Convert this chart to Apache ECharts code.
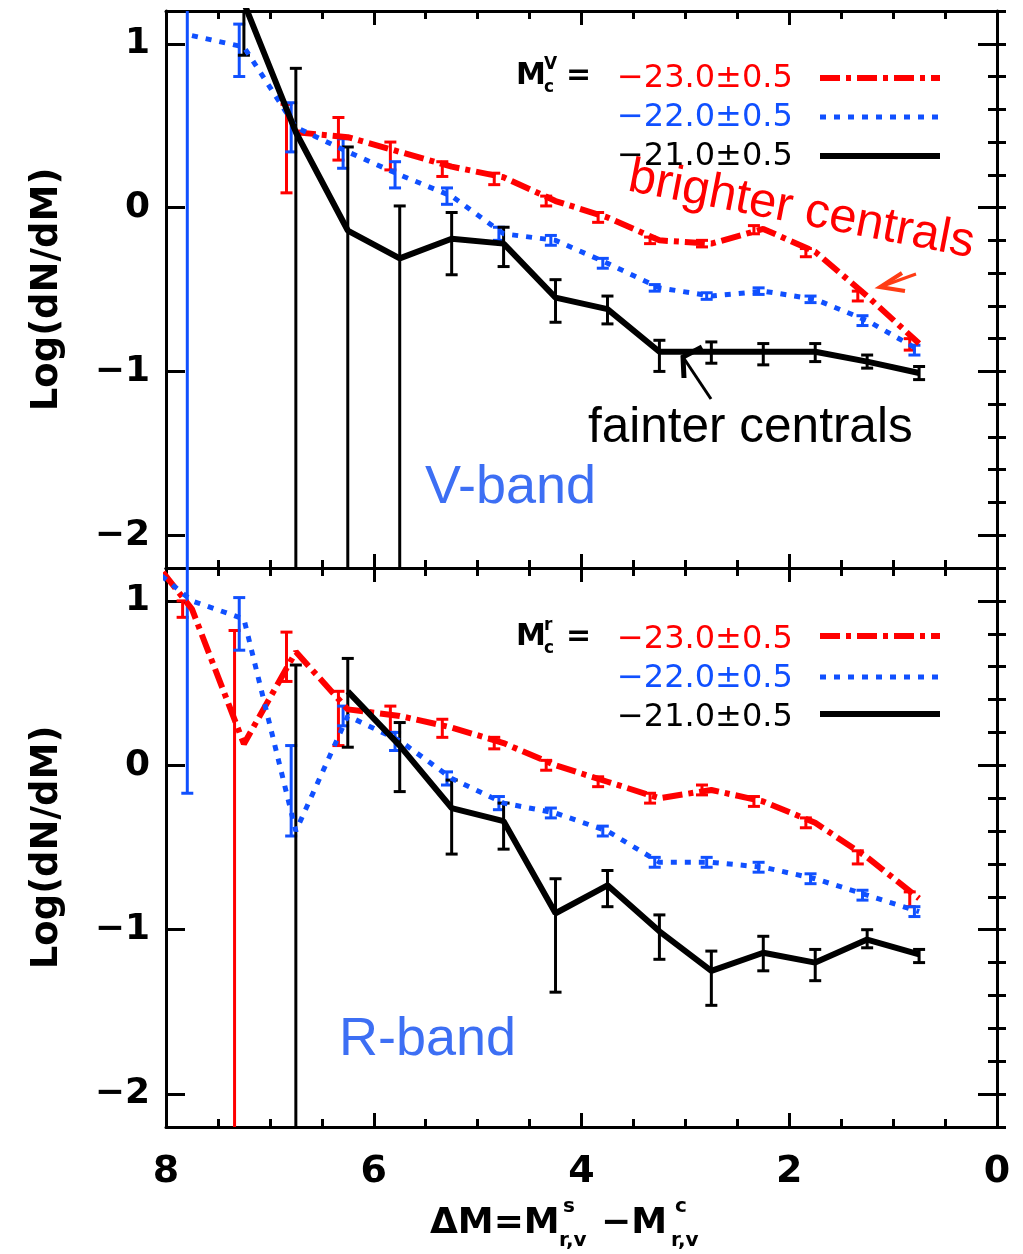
<!DOCTYPE html>
<html><head><meta charset="utf-8">
<script src="https://cdn.jsdelivr.net/npm/echarts@6/dist/echarts.min.js"></script>
<style>html,body{margin:0;padding:0;background:#fff}#c{width:1023px;height:1254px}</style>
</head><body><div id="c"></div>
<script>
// ---------------- data ----------------
const bins = [8.25, 7.75, 7.25, 6.75, 6.25, 5.75, 5.25, 4.75, 4.25, 3.75, 3.25, 2.75, 2.25, 1.75, 1.25, 0.75];
const seriesNames = ['−23.0±0.5', '−22.0±0.5', '−21.0±0.5'];
const yTickValues = [1, 0, -1, -2];
const xTickValues = [8, 6, 4, 2, 0];

// V-band panel
const vRed    = [null, null, null, 0.46, 0.43, 0.34, 0.25, 0.185, 0.04, -0.06, -0.20, -0.22, -0.13, -0.27, -0.54, -0.83];
const vRedLo  = [null, null, null, 0.09, 0.29, 0.23, 0.19, 0.14, 0.01, -0.09, -0.22, -0.24, -0.16, -0.30, -0.57, -0.87];
const vRedHi  = [null, null, null, 0.63, 0.55, 0.40, 0.28, 0.21, 0.07, -0.03, -0.18, -0.20, -0.11, -0.25, -0.51, -0.80];
const vBlue   = [null, 1.05, 0.98, 0.49, 0.34, 0.20, 0.07, -0.16, -0.20, -0.34, -0.49, -0.54, -0.51, -0.56, -0.69, -0.87];
const vBlueLo = [null, -3.0, 0.80, 0.34, 0.24, 0.12, 0.02, -0.20, -0.23, -0.37, -0.51, -0.56, -0.53, -0.58, -0.72, -0.90];
const vBlueHi = [null, 2.0, 1.12, 0.64, 0.42, 0.28, 0.12, -0.12, -0.17, -0.31, -0.47, -0.52, -0.49, -0.54, -0.66, -0.84];
const vBlack   = [null, null, 1.25, 0.46, -0.14, -0.31, -0.19, -0.22, -0.55, -0.62, -0.88, -0.88, -0.88, -0.88, -0.94, -1.01];
const vBlackLo = [null, null, 0.93, -3.0, -3.0, -3.0, -0.41, -0.36, -0.70, -0.71, -1.00, -0.95, -0.96, -0.94, -0.98, -1.05];
const vBlackHi = [null, null, 1.60, 0.85, 0.37, 0.01, -0.03, -0.12, -0.44, -0.54, -0.81, -0.82, -0.83, -0.83, -0.90, -0.97];

// R-band panel
const rRed    = [1.35, 0.95, 0.13, 0.69, 0.34, 0.30, 0.23, 0.135, 0.00, -0.10, -0.20, -0.15, -0.22, -0.35, -0.56, -0.81];
const rRedLo  = [null, 0.90, -3.0, 0.51, 0.12, 0.20, 0.17, 0.10, -0.03, -0.13, -0.23, -0.18, -0.25, -0.38, -0.60, -0.86];
const rRedHi  = [null, 1.00, 0.82, 0.81, 0.45, 0.36, 0.28, 0.17, 0.03, -0.07, -0.17, -0.12, -0.19, -0.32, -0.52, -0.77];
const rBlue   = [1.26, 1.00, 0.89, -0.40, 0.30, 0.15, -0.08, -0.23, -0.29, -0.40, -0.59, -0.59, -0.62, -0.69, -0.79, -0.89];
const rBlueLo = [null, -0.17, 0.70, -0.43, 0.24, 0.09, -0.12, -0.27, -0.32, -0.43, -0.62, -0.62, -0.65, -0.72, -0.82, -0.92];
const rBlueHi = [null, 2.0, 1.02, 0.12, 0.36, 0.20, -0.04, -0.19, -0.26, -0.37, -0.56, -0.56, -0.59, -0.66, -0.76, -0.86];
const rBlack   = [null, null, null, null, 0.45, 0.12, -0.26, -0.34, -0.90, -0.73, -1.01, -1.25, -1.14, -1.20, -1.06, -1.15];
const rBlackLo = [null, null, null, -3.0, 0.11, -0.16, -0.54, -0.51, -1.38, -0.86, -1.18, -1.46, -1.25, -1.31, -1.11, -1.20];
const rBlackHi = [null, null, null, 0.61, 0.65, 0.26, -0.09, -0.23, -0.69, -0.64, -0.91, -1.13, -1.04, -1.12, -1.00, -1.12];

// error-bar horizontal shift
const redBarShift = 0.09, blueBarShift = 0.045, blackBarShift = 0;

// ---------------- styling ----------------
const RED = '#ff0000', BLUE = '#1050ff', BLACK = '#000000', LABELBLUE = '#3d6ff4';
const Y_MIN = -2.2, Y_MAX = 1.2;
const TICKFONT = 'DejaVu Sans';

function pairs(vals) { return bins.map((b, i) => [b, vals[i]]); }
function bars(lo, hi, shift) {
  const out = [];
  bins.forEach((b, i) => { if (lo[i] != null) out.push([b + shift, lo[i], hi[i]]); });
  return out;
}
function errRender(color) {
  return function (params, api) {
    const x = api.value(0), lo = api.value(1), hi = api.value(2);
    const loC = Math.max(lo, Y_MIN), hiC = Math.min(hi, Y_MAX);
    const p1 = api.coord([x, loC]), p2 = api.coord([x, hiC]);
    const st = { stroke: color, lineWidth: 3 };
    const ch = [{ type: 'line', shape: { x1: p1[0], y1: p1[1], x2: p2[0], y2: p2[1] }, style: st }];
    const hw = 6;
    if (lo >= Y_MIN) ch.push({ type: 'line', shape: { x1: p1[0] - hw, y1: p1[1], x2: p1[0] + hw, y2: p1[1] }, style: st });
    if (hi <= Y_MAX) ch.push({ type: 'line', shape: { x1: p2[0] - hw, y1: p2[1], x2: p2[0] + hw, y2: p2[1] }, style: st });
    return { type: 'group', children: ch };
  };
}

const lineStyles = [
  { color: RED, width: 6, type: [20, 6, 5, 6], cap: 'butt' },
  { color: BLUE, width: 5, type: [6, 8], cap: 'butt' },
  { color: BLACK, width: 6, type: 'solid' }
];

function xAxes(grid, withLabels) {
  const base = {
    type: 'value', gridIndex: grid, min: 0, max: 8, interval: 2, inverse: true,
    splitLine: { show: false },
    axisLine: { show: true, onZero: false, lineStyle: { color: '#000', width: 3 } },
    axisTick: { show: true, inside: true, length: 14, lineStyle: { color: '#000', width: 3 } },
    minorTick: { show: true, splitNumber: 4, length: 8, lineStyle: { color: '#000', width: 3 } }
  };
  return [
    Object.assign({}, base, {
      position: 'bottom',
      axisLabel: withLabels ? {
        show: true, margin: 26, color: '#000', fontFamily: TICKFONT, fontWeight: 'bold', fontSize: 38,
        customValues: xTickValues, formatter: v => String(v)
      } : { show: false }
    }),
    Object.assign({}, base, { position: 'top', axisLabel: { show: false } })
  ];
}
function yAxes(grid) {
  const major = {
    type: 'value', gridIndex: grid, min: Y_MIN, max: Y_MAX,
    splitLine: { show: false },
    axisLine: { show: true, onZero: false, lineStyle: { color: '#000', width: 3 } },
    axisTick: { show: true, inside: true, length: 19, customValues: yTickValues, lineStyle: { color: '#000', width: 3 } }
  };
  const minor = {
    type: 'value', gridIndex: grid, min: Y_MIN, max: Y_MAX, interval: 0.2,
    splitLine: { show: false }, axisLabel: { show: false },
    axisLine: { show: false },
    axisTick: { show: true, inside: true, length: 9, lineStyle: { color: '#000', width: 3 } }
  };
  return [
    Object.assign({}, major, {
      position: 'left',
      name: 'Log(dN/dM)', nameLocation: 'middle', nameGap: 100, nameRotate: 90,
      nameTextStyle: { fontFamily: TICKFONT, fontWeight: 'bold', fontSize: 37, color: '#000' },
      axisLabel: {
        show: true, margin: 16, color: '#000', fontFamily: TICKFONT, fontWeight: 'bold', fontSize: 36,
        customValues: yTickValues, formatter: v => (v < 0 ? '−' + Math.abs(v) : String(v))
      }
    }),
    Object.assign({}, major, { position: 'right', axisLabel: { show: false } }),
    Object.assign({}, minor, { position: 'left' }),
    Object.assign({}, minor, { position: 'right' })
  ];
}

function panelSeries(gi, red, redLo, redHi, blue, blueLo, blueHi, black, blackLo, blackHi) {
  const xi = gi * 2, yi = gi * 4;
  const colors = [RED, BLUE, BLACK];
  const mk = (k, data, z) => ({
    type: 'line', name: seriesNames[k], xAxisIndex: xi, yAxisIndex: yi, data, symbol: 'none', showSymbol: false,
    itemStyle: { color: colors[k] },
    lineStyle: lineStyles[k], connectNulls: false, clip: true, z, animation: false
  });
  const eb = (name, data, color, z) => ({
    type: 'custom', name, xAxisIndex: xi, yAxisIndex: yi, data, renderItem: errRender(color),
    encode: { x: 0, y: [1, 2] }, clip: true, z, animation: false, silent: true
  });
  return [
    eb('err-red-' + gi, bars(redLo, redHi, redBarShift), RED, 3),
    eb('err-blue-' + gi, bars(blueLo, blueHi, blueBarShift), BLUE, 3),
    eb('err-black-' + gi, bars(blackLo, blackHi, blackBarShift), BLACK, 3),
    mk(0, pairs(red), 4),
    mk(1, pairs(blue), 4),
    mk(2, pairs(black), 5)
  ];
}

function legendFor(top) {
  return {
    orient: 'vertical', left: 612, top, align: 'right', itemWidth: 120, itemHeight: 14, itemGap: 7,
    selectedMode: false, icon: 'rect',
    itemStyle: { opacity: 0 },
    data: [
      { name: seriesNames[0], textStyle: { color: RED } },
      { name: seriesNames[1], textStyle: { color: BLUE } },
      { name: seriesNames[2], textStyle: { color: BLACK } }
    ],
    formatter: '{name}{g| }',
    textStyle: { fontFamily: 'DejaVu Sans', fontSize: 32, rich: { g: { width: 22 } } }
  };
}

function legendSamples(ys) {
  return ys.map((y, k) => ({
    type: 'line', shape: { x1: 820, y1: y, x2: 940, y2: y },
    style: { stroke: lineStyles[k].color, lineWidth: lineStyles[k].width, lineDash: Array.isArray(lineStyles[k].type) ? lineStyles[k].type : null, lineCap: 'butt' }
  }));
}

function mLabel(x, y, sup) {
  return [
    { type: 'text', x, y, style: { text: 'M', font: 'bold 30px "DejaVu Sans"', fill: '#000', verticalAlign: 'middle' } },
    { type: 'text', x: x + 28, y: y - 11, style: { text: sup, font: 'bold 17px "DejaVu Sans"', fill: '#000', verticalAlign: 'middle' } },
    { type: 'text', x: x + 28, y: y + 12, style: { text: 'c', font: 'bold 17px "DejaVu Sans"', fill: '#000', verticalAlign: 'middle' } },
    { type: 'text', x: x + 50, y, style: { text: '=', font: 'bold 30px "DejaVu Sans"', fill: '#000', verticalAlign: 'middle' } }
  ];
}

const graphics = [].concat(
  mLabel(516, 76, 'V'),
  mLabel(516, 637, 'r'),
  legendSamples([78, 117, 156]),
  legendSamples([636, 677, 714]),
  [
    // x axis title
    { type: 'text', x: 430, y: 1224, style: { text: 'ΔM=M', font: 'bold 36px "DejaVu Sans"', fill: '#000', verticalAlign: 'middle' } },
    { type: 'text', x: 563, y: 1207, style: { text: 's', font: 'bold 20px "DejaVu Sans"', fill: '#000', verticalAlign: 'middle' } },
    { type: 'text', x: 559, y: 1241, style: { text: 'r,v', font: 'bold 20px "DejaVu Sans"', fill: '#000', verticalAlign: 'middle' } },
    { type: 'text', x: 601, y: 1224, style: { text: '−M', font: 'bold 36px "DejaVu Sans"', fill: '#000', verticalAlign: 'middle' } },
    { type: 'text', x: 675, y: 1207, style: { text: 'c', font: 'bold 20px "DejaVu Sans"', fill: '#000', verticalAlign: 'middle' } },
    { type: 'text', x: 671, y: 1241, style: { text: 'r,v', font: 'bold 20px "DejaVu Sans"', fill: '#000', verticalAlign: 'middle' } },
    // annotations
    { type: 'text', x: 629, y: 177, rotation: -11 * Math.PI / 180, style: { text: 'brighter centrals', font: '49px "Liberation Sans"', fill: RED, verticalAlign: 'middle' } },
    { type: 'polyline', shape: { points: [[916, 274], [880, 287]] }, style: { stroke: '#ff3c14', lineWidth: 3, fill: null } },
    { type: 'polyline', shape: { points: [[902, 273], [880, 287], [905, 291]] }, style: { stroke: '#ff3c14', lineWidth: 4, fill: null } },
    { type: 'text', x: 588, y: 428, style: { text: 'fainter centrals', font: '49.5px "Liberation Sans"', fill: '#000', verticalAlign: 'middle' } },
    { type: 'polyline', shape: { points: [[711, 399], [683, 357]] }, style: { stroke: '#000', lineWidth: 3, fill: null } },
    { type: 'polyline', shape: { points: [[702, 347], [683, 357], [684, 378]] }, style: { stroke: '#000', lineWidth: 5, fill: null } },
    { type: 'text', x: 425, y: 488, style: { text: 'V-band', font: '54px "Liberation Sans"', fill: LABELBLUE, verticalAlign: 'middle' } },
    { type: 'text', x: 339, y: 1040, style: { text: 'R-band', font: '54px "Liberation Sans"', fill: LABELBLUE, verticalAlign: 'middle' } }
  ]
);

const option = {
  animation: false,
  backgroundColor: '#fff',
  grid: [
    { left: 166, right: 26, top: 11, height: 557, containLabel: false },
    { left: 166, right: 26, top: 568, height: 559, containLabel: false }
  ],
  xAxis: [].concat(xAxes(0, false), xAxes(1, true)),
  yAxis: [].concat(yAxes(0), yAxes(1)),
  legend: [legendFor(58), legendFor(619)],
  series: [].concat(
    panelSeries(0, vRed, vRedLo, vRedHi, vBlue, vBlueLo, vBlueHi, vBlack, vBlackLo, vBlackHi),
    panelSeries(1, rRed, rRedLo, rRedHi, rBlue, rBlueLo, rBlueHi, rBlack, rBlackLo, rBlackHi)
  ),
  graphic: graphics
};

const chart = echarts.init(document.getElementById('c'), null, { renderer: 'canvas' });
chart.setOption(option);
</script>
</body></html>
